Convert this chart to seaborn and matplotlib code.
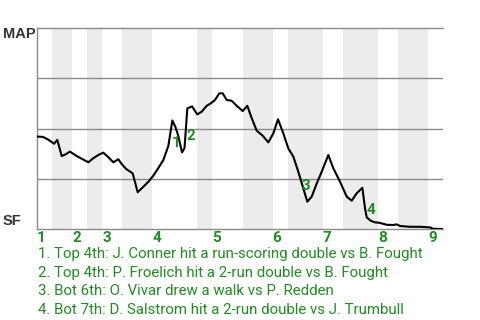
import matplotlib
matplotlib.use("Agg")
import matplotlib.pyplot as plt
import seaborn as sns
import pandas as pd

# ---- data ----
play = [0.00, 1.20, 2.00, 2.99, 3.39, 4.05, 4.93, 5.73, 6.58, 7.92, 9.12, 10.24,
        11.23, 12.23, 13.23, 14.23, 15.22, 16.22, 16.90, 17.76, 19.09, 20.09,
        21.21, 22.21, 23.20, 24.20, 25.20, 26.20, 27.00, 27.63, 28.19, 28.93,
        29.43, 29.99, 30.93, 31.98, 32.86, 33.86, 34.66, 35.51, 36.37, 37.05,
        37.85, 38.85, 39.84, 41.04, 41.96, 42.84, 43.84, 45.03, 46.15, 47.15,
        48.08, 49.14, 50.14, 51.14, 52.13, 53.13, 53.93, 54.81, 55.81, 56.80,
        58.12, 59.12, 60.46, 61.79, 62.79, 63.79, 64.91, 65.44, 65.78, 66.58,
        67.44, 68.30, 69.77, 71.09, 71.77, 72.43, 74.42, 76.42, 78.41, 79.07, 81.00]
map_win_prob = [0.460, 0.458, 0.448, 0.432, 0.424, 0.443, 0.363, 0.372, 0.385, 0.363,
                0.347, 0.332, 0.352, 0.368, 0.380, 0.357, 0.332, 0.347, 0.323, 0.299,
                0.277, 0.183, 0.210, 0.235, 0.265, 0.303, 0.343, 0.413, 0.540, 0.507,
                0.463, 0.381, 0.403, 0.600, 0.610, 0.570, 0.584, 0.613, 0.625, 0.642,
                0.675, 0.675, 0.642, 0.638, 0.613, 0.587, 0.613, 0.551, 0.489, 0.464,
                0.431, 0.476, 0.546, 0.476, 0.401, 0.360, 0.285, 0.202, 0.136, 0.161,
                0.227, 0.285, 0.368, 0.302, 0.235, 0.161, 0.141, 0.178, 0.205, 0.103,
                0.058, 0.041, 0.033, 0.031, 0.021, 0.020, 0.023, 0.015, 0.011, 0.011,
                0.008, 0.001, 0.000]
inning_labels = ["1", "2", "3", "4", "5", "6", "7", "8", "9"]
inning_start = [0, 7, 13, 23, 35, 47, 57, 68, 78]
bottom_half = [(3, 7), (10, 13), (17, 23), (32, 35), (41, 47), (50, 57), (61, 68), (72, 78)]
total_plays = 81
team_top = "MAP"
team_bottom = "SF"
event_numbers = ["1", "2", "3", "4"]
event_index = [28, 33, 58, 69]
event_text = [
    "1. Top 4th: J. Conner hit a run-scoring double vs B. Fought",
    "2. Top 4th: P. Froelich hit a 2-run double vs B. Fought",
    "3. Bot 6th: O. Vivar drew a walk vs P. Redden",
    "4. Bot 7th: D. Salstrom hit a 2-run double vs J. Trumbull",
]

# ---- style ----
GREEN = "#228b22"
GRID = "#8a8a8a"
BAND = "#ececec"
event_offsets_px = [(3.5, -23), (3.5, -28), (-1.5, 16), (6, -2)]

sns.set_theme(style="white")
plt.rcParams['font.family'] = ['Roboto', 'DejaVu Sans']

W, H = 480, 320
fig = plt.figure(figsize=(W / 100, H / 100), dpi=100)
ax = fig.add_axes([37 / W, 1 - 229 / H, 406 / W, 201 / H])

for a, b in bottom_half:
    ax.axvspan(a, b, color=BAND, lw=0, zorder=0)
for yv in (0.25, 0.5, 0.75):
    ax.axhline(yv, color=GRID, lw=1.0, zorder=1)

df = pd.DataFrame({"play": play, "p": map_win_prob})
sns.lineplot(data=df, x="play", y="p", ax=ax, color="black", lw=1.5,
             sort=False, zorder=3)

ax.set_xlim(0, total_plays)
ax.set_ylim(0, 1)
ax.set_xticks([])
ax.set_yticks([])
ax.set_xlabel("")
ax.set_ylabel("")
for s in ("left", "top", "bottom"):
    ax.spines[s].set_visible(True)
    ax.spines[s].set_color(GRID)
    ax.spines[s].set_linewidth(1.0)
ax.spines["right"].set_visible(False)

# event markers
for num, idx, off in zip(event_numbers, event_index, event_offsets_px):
    ax.annotate(num, (play[idx], map_win_prob[idx]), xytext=off,
                textcoords="offset pixels", ha="center", va="center",
                color=GREEN, fontsize=11, fontweight="bold", zorder=4)

# inning labels
for lab, st in zip(inning_labels, inning_start):
    ax.annotate(lab, (st, 0), xytext=(4.5, -8.5), textcoords="offset pixels",
                xycoords=ax.get_xaxis_transform(), ha="center", va="center",
                color=GREEN, fontsize=11, fontweight="bold")

fig.text(3 / W, 1 - 34 / H, team_top, ha="left", va="center",
         fontsize=10.5, fontweight="bold", color="#333333",
         family=["Liberation Sans", "DejaVu Sans"])
fig.text(3 / W, 1 - 221 / H, team_bottom, ha="left", va="center",
         fontsize=10.5, fontweight="bold", color="#333333",
         family=["Liberation Sans", "DejaVu Sans"])

for i, t in enumerate(event_text):
    fig.text(38 / W, 1 - (254 + 18.6 * i) / H, t, ha="left", va="center",
             fontsize=10.8, color=GREEN)

fig.savefig("out.png", dpi=100)
